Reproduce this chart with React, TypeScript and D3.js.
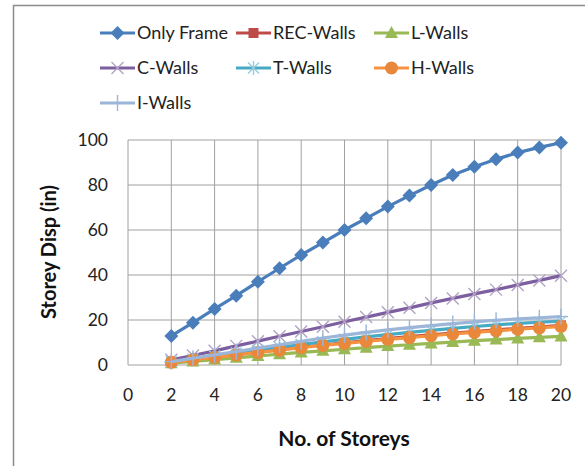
import React from "react";
import * as d3 from "d3";

const storeys = [2, 3, 4, 5, 6, 7, 8, 9, 10, 11, 12, 13, 14, 15, 16, 17, 18, 19, 20];
const onlyFrame = [12.9, 18.8, 24.9, 30.8, 37, 43, 48.9, 54.4, 60, 65.2, 70.4, 75.3, 80, 84.4, 88.1, 91.4, 94.4, 96.7, 98.8];
const recWalls = [1.3, 2.4, 3.5, 4.6, 5.7, 6.8, 7.9, 8.9, 9.9, 10.8, 11.7, 12.6, 13.4, 14.2, 14.9, 15.6, 16.3, 16.9, 17.6];
const lWalls = [0.8, 1.6, 2.4, 3.2, 4.0, 4.8, 5.6, 6.3, 7.0, 7.7, 8.4, 9.0, 9.6, 10.2, 10.8, 11.3, 11.8, 12.3, 12.7];
const cWalls = [2.3, 4.2, 6.3, 8.5, 10.6, 12.8, 14.9, 17, 19.2, 21.3, 23.4, 25.4, 27.6, 29.6, 31.6, 33.5, 35.6, 37.6, 39.7];
const tWalls = [1.4, 2.7, 4.0, 5.3, 6.6, 7.9, 9.1, 10.3, 11.4, 12.5, 13.5, 14.5, 15.4, 16.3, 17.1, 17.8, 18.5, 19.0, 19.5];
const hWalls = [1.2, 2.3, 3.4, 4.5, 5.6, 6.6, 7.7, 8.7, 9.6, 10.5, 11.4, 12.2, 13.0, 13.8, 14.5, 15.2, 15.9, 16.5, 17.2];
const iWalls = [1.5, 3.0, 4.5, 6.0, 7.5, 9.0, 10.5, 12.0, 13.3, 14.5, 15.6, 16.6, 17.5, 18.4, 19.2, 19.9, 20.5, 21.0, 21.5];

const seriesNames = ["Only Frame", "REC-Walls", "L-Walls", "C-Walls", "T-Walls", "H-Walls", "I-Walls"];
const seriesValues = [onlyFrame, recWalls, lWalls, cWalls, tWalls, hWalls, iWalls];
const xTicks = [0, 2, 4, 6, 8, 10, 12, 14, 16, 18, 20];
const yTicks = [0, 20, 40, 60, 80, 100];

const styles = [
  { line: "#4A7EBB", marker: "diamond", mfill: "#4A7EBB" },
  { line: "#BE4B48", marker: "square", mfill: "#BE4B48" },
  { line: "#98B954", marker: "triangle", mfill: "#98B954" },
  { line: "#7D5FA0", marker: "x", mfill: "#B3A2C7" },
  { line: "#46AAC5", marker: "star", mfill: "#93CDDD" },
  { line: "#F69240", marker: "circle", mfill: "#E9883A" },
  { line: "#9CB6DA", marker: "plus", mfill: "#9CB6DA" },
];

const FONT = "Lato, 'Open Sans', sans-serif";

function Marker({ type, x, y, color }: { type: string; x: number; y: number; color: string }) {
  switch (type) {
    case "diamond":
      return <path d={`M${x},${y - 7}L${x + 7},${y}L${x},${y + 7}L${x - 7},${y}Z`} fill={color} />;
    case "square":
      return <rect x={x - 5} y={y - 5} width={10} height={10} fill={color} />;
    case "triangle":
      return <path d={`M${x},${y - 7}L${x + 6.5},${y + 5}L${x - 6.5},${y + 5}Z`} fill={color} />;
    case "x":
      return (
        <path d={`M${x - 6},${y - 6}L${x + 6},${y + 6}M${x - 6},${y + 6}L${x + 6},${y - 6}`} stroke={color} strokeWidth={1.4} fill="none" />
      );
    case "star":
      return (
        <path
          d={`M${x - 5.5},${y - 5.5}L${x + 5.5},${y + 5.5}M${x - 5.5},${y + 5.5}L${x + 5.5},${y - 5.5}M${x},${y - 7}L${x},${y + 7}`}
          stroke={color}
          strokeWidth={1.4}
          fill="none"
        />
      );
    case "circle":
      return <circle cx={x} cy={y} r={6.5} fill={color} />;
    case "plus":
      return <path d={`M${x - 7},${y}L${x + 7},${y}M${x},${y - 8}L${x},${y + 8}`} stroke={color} strokeWidth={1.4} fill="none" />;
    default:
      return null;
  }
}

export default function App() {
  const W = 585;
  const H = 466;
  const x = d3.scaleLinear().domain([0, 20]).range([128, 561]);
  const y = d3.scaleLinear().domain([0, 100]).range([365, 140]);
  const line = d3
    .line<number>()
    .x((_, i) => x(storeys[i]))
    .y((d) => y(d));

  const legendPos = [
    { lx: 100, ly: 33 },
    { lx: 236, ly: 33 },
    { lx: 374, ly: 33 },
    { lx: 100, ly: 68 },
    { lx: 236, ly: 68 },
    { lx: 374, ly: 68 },
    { lx: 100, ly: 103 },
  ];

  return (
    <svg width={W} height={H} style={{ position: "absolute", left: 0, top: 0 }}>
      <rect x={0} y={0} width={W} height={H} fill="white" />
      <rect x={13.5} y={5.5} width={W} height={H} fill="none" stroke="#8c8c8c" strokeWidth={1.5} />
      {/* gridlines */}
      {yTicks.map((t) => (
        <line key={"gy" + t} x1={x(0)} x2={x(20)} y1={y(t)} y2={y(t)} stroke="#a0a0a0" strokeWidth={1} />
      ))}
      {xTicks.map((t) => (
        <line key={"gx" + t} x1={x(t)} x2={x(t)} y1={y(0)} y2={y(100)} stroke="#a0a0a0" strokeWidth={1} />
      ))}
      {/* tick labels */}
      {yTicks.map((t) => (
        <text key={"ty" + t} x={108} y={y(t)} dy="0.35em" textAnchor="end" fontFamily={FONT} fontSize={17.5} fill="#222">
          {t}
        </text>
      ))}
      {xTicks.map((t) => (
        <text key={"tx" + t} x={x(t)} y={395} dy="0.35em" textAnchor="middle" fontFamily={FONT} fontSize={17.5} fill="#222">
          {t}
        </text>
      ))}
      <text
        transform={`translate(49,252) rotate(-90)`}
        textAnchor="middle"
        dy="0.35em"
        fontFamily={FONT}
        fontSize={20}
        fontWeight="bold"
        fill="#111"
      >
        Storey Disp (in)
      </text>
      <text x={344} y={439} dy="0.35em" textAnchor="middle" fontFamily={FONT} fontSize={21} fontWeight="bold" fill="#111">
        No. of Storeys
      </text>
      {/* series */}
      {seriesValues.map((vals, si) => (
        <g key={"s" + si}>
          <path d={line(vals) || ""} fill="none" stroke={styles[si].line} strokeWidth={3.2} />
          {vals.map((v, i) => (
            <Marker key={i} type={styles[si].marker} x={x(storeys[i])} y={y(v)} color={styles[si].mfill} />
          ))}
        </g>
      ))}
      {/* legend */}
      {seriesNames.map((name, si) => {
        const p = legendPos[si];
        return (
          <g key={"l" + si}>
            <line x1={p.lx} x2={p.lx + 35} y1={p.ly} y2={p.ly} stroke={styles[si].line} strokeWidth={3.2} />
            <Marker type={styles[si].marker} x={p.lx + 17.5} y={p.ly} color={styles[si].mfill} />
            <text x={p.lx + 37} y={p.ly} dy="0.35em" fontFamily={FONT} fontSize={18} fill="#222">
              {name}
            </text>
          </g>
        );
      })}
    </svg>
  );
}
